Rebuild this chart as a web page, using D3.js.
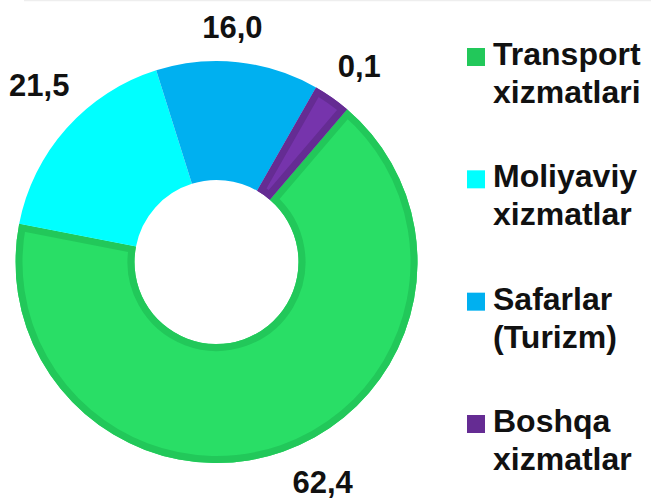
<!DOCTYPE html>
<html>
<head>
<meta charset="utf-8">
<script src="https://cdn.jsdelivr.net/npm/d3@7"></script>
<style>
  html, body { margin: 0; padding: 0; background: #ffffff; }
  svg { display: block; }
  text { font-family: "Liberation Sans", Arial, sans-serif; font-weight: bold; fill: #111111; }
</style>
</head>
<body>
<svg id="chart" width="651" height="500"></svg>
<script>
// ---- data ----
const categories = ["Transport xizmatlari", "Moliyaviy xizmatlar", "Safarlar (Turizm)", "Boshqa xizmatlar"];
const legendLines = [["Transport", "xizmatlari"], ["Moliyaviy", "xizmatlar"], ["Safarlar", "(Turizm)"], ["Boshqa", "xizmatlar"]];
// printed values (shares, %)
const values = [62.4, 21.5, 16.0, 0.1];
// angular share of each ring segment as it is actually drawn in the picture (%)
const drawnShares = [66.8, 17.1, 13.1, 3.0];

// ---- style ----
const fills   = ["#29DE66", "#00FFFF", "#00B0F0", "#7634AC"];
const strokes = ["#22C85A", null, null, "#652C93"];
const labelNudge = [[26, -10], [4, -16], [-10, 6], [3, 2]];

const svg = d3.select("#chart");
const W = 651, H = 500;
const cx = 216.5, cy = 262, R = 201, r0 = 82;

// faint frame line at top
svg.append("line").attr("x1", 24).attr("x2", W).attr("y1", 0.5).attr("y2", 0.5)
  .attr("stroke", "#eeeeee").attr("stroke-width", 1.5);

const data = categories.map((c, i) => ({ cat: c, value: values[i], share: drawnShares[i], i }));

const pie = d3.pie().sort(null).value(d => d.share)
  .startAngle(40.5 * Math.PI / 180).endAngle((40.5 + 360) * Math.PI / 180);
const arc = d3.arc().innerRadius(r0).outerRadius(R);
const arcs = pie(data);

const g = svg.append("g").attr("transform", `translate(${cx},${cy})`);
const defs = svg.append("defs");

arcs.forEach((a, k) => {
  const d = arc(a);
  defs.append("clipPath").attr("id", "clip" + k).append("path").attr("d", d);
  g.append("path").attr("d", d).attr("fill", fills[a.data.i]);
  if (strokes[a.data.i]) {
    g.append("path").attr("d", d).attr("fill", "none")
      .attr("stroke", strokes[a.data.i]).attr("stroke-width", 14)
      .attr("stroke-linejoin", "miter")
      .attr("clip-path", `url(#clip${k})`);
  }
});

// value labels
const fmt = v => d3.format(".1f")(v).replace(".", ",");
const labelArc = d3.arc().innerRadius(243).outerRadius(243);
arcs.forEach(a => {
  const [x, y] = labelArc.centroid(a);
  const n = labelNudge[a.data.i];
  g.append("text")
    .attr("x", x + n[0]).attr("y", y + n[1] + 11.5)
    .attr("text-anchor", "middle")
    .attr("font-size", 31)
    .text(fmt(a.data.value));
});

// legend
const legend = svg.append("g").attr("transform", "translate(467,0)");
const legY = d3.scalePoint().domain(d3.range(categories.length)).range([57, 424]);
categories.forEach((c, i) => {
  const yc = legY(i);
  legend.append("rect").attr("x", 0).attr("y", yc - 9).attr("width", 18).attr("height", 18)
    .attr("fill", i === 0 ? strokes[0] : (i === 3 ? strokes[3] : fills[i]));
  const t = legend.append("text").attr("x", 26).attr("y", yc + 8).attr("font-size", 32);
  legendLines[i].forEach((line, j) => {
    t.append("tspan").attr("x", 26).attr("dy", j === 0 ? 0 : 38).text(line);
  });
});
</script>
</body>
</html>
